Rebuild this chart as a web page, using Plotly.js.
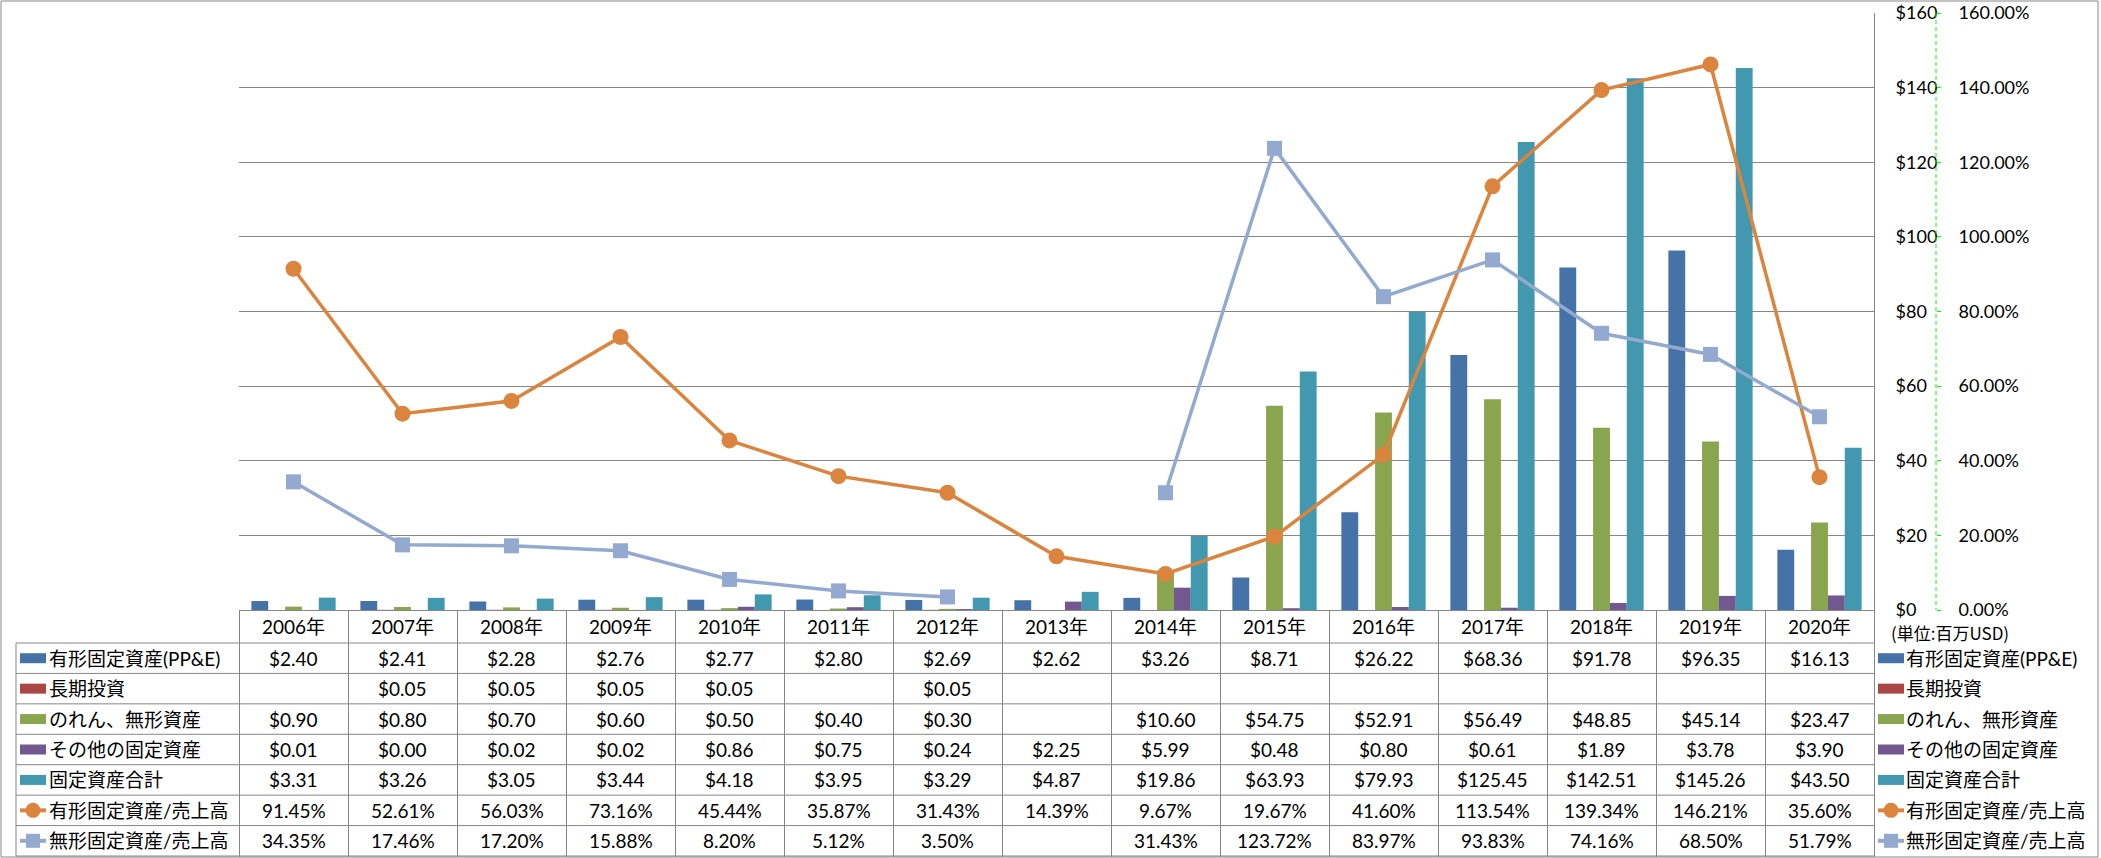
<!DOCTYPE html>
<html>
<head>
<meta charset="utf-8">
<script src="https://cdn.plot.ly/plotly-3.0.1.min.js"></script>
<style>
html,body{margin:0;padding:0;background:#fff;}
#chart{width:2101px;height:858px;}
</style>
</head>
<body>
<div id="chart"></div>
<script>
// ---- data ----
const years = ['2006年','2007年','2008年','2009年','2010年','2011年','2012年','2013年','2014年','2015年','2016年','2017年','2018年','2019年','2020年'];
const ppe = [2.40,2.41,2.28,2.76,2.77,2.80,2.69,2.62,3.26,8.71,26.22,68.36,91.78,96.35,16.13];
const longTermInvest = [null,0.05,0.05,0.05,0.05,null,0.05,null,null,null,null,null,null,null,null];
const goodwillIntangible = [0.90,0.80,0.70,0.60,0.50,0.40,0.30,null,10.60,54.75,52.91,56.49,48.85,45.14,23.47];
const otherFixed = [0.01,0.00,0.02,0.02,0.86,0.75,0.24,2.25,5.99,0.48,0.80,0.61,1.89,3.78,3.90];
const totalFixed = [3.31,3.26,3.05,3.44,4.18,3.95,3.29,4.87,19.86,63.93,79.93,125.45,142.51,145.26,43.50];
const tangibleRatio = [91.45,52.61,56.03,73.16,45.44,35.87,31.43,14.39,9.67,19.67,41.60,113.54,139.34,146.21,35.60];
const intangibleRatio = [34.35,17.46,17.20,15.88,8.20,5.12,3.50,null,31.43,123.72,83.97,93.83,74.16,68.50,51.79];

const seriesNames = ['有形固定資産(PP&E)','長期投資','のれん、無形資産','その他の固定資産','固定資産合計','有形固定資産/売上高','無形固定資産/売上高'];
const unitLabel = '(単位:百万USD)';

// ---- styles ----
const colors = ['#4572A7','#AA4643','#89A54E','#71588F','#4198AF','#DB843D','#93A9CF'];
const FONT = 'Lato, "Noto Sans CJK JP", sans-serif';
const TFS = 19; // table font size
const GRID = '#868686';
const W = 2101, H = 858;
const plotL = 239, plotR = 1874, plotT = 13, plotB = 610, axis2X = 1936;
const tableTop = 610, headerBottom = 643, tableBottom = 856;
const paperW = axis2X - plotL, paperH = plotB - plotT;
const fx = p => (p - plotL) / paperW;
const fy = p => (plotB - p) / paperH;
const rowH = (tableBottom - headerBottom) / 7;
const rowCenter = i => headerBottom + rowH * (i + 0.5);

const barSeries = [ppe, longTermInvest, goodwillIntangible, otherFixed, totalFixed];
const lineSeries = [tangibleRatio, intangibleRatio];

const traces = [];
barSeries.forEach((vals, k) => {
  traces.push({type:'bar', name:seriesNames[k], x:years, y:vals, marker:{color:colors[k]}, yaxis:'y', hoverinfo:'x+y'});
});
lineSeries.forEach((vals, k) => {
  traces.push({type:'scatter', mode:'lines+markers', name:seriesNames[5+k], x:years, y:vals, yaxis:'y2',
    connectgaps:false, line:{color:colors[5+k], width:3.5},
    marker:{color:colors[5+k], size:k===0?16:15, symbol:k===0?'circle':'square'}, cliponaxis:false});
});

const shapes = [];
const annotations = [];
const line = (x0,y0,x1,y1,c,w,dash) => shapes.push({type:'line', xref:'paper', yref:'paper', x0:fx(x0), x1:fx(x1), y0:fy(y0), y1:fy(y1), line:{color:c, width:w||1, dash:dash||'solid'}, layer:'above'});
const rect = (x0,y0,x1,y1,fill) => shapes.push({type:'rect', xref:'paper', yref:'paper', x0:fx(x0), x1:fx(x1), y0:fy(y0), y1:fy(y1), fillcolor:fill, line:{width:0}, layer:'above'});
const circ = (cx,cy,r,fill) => shapes.push({type:'circle', xref:'paper', yref:'paper', x0:fx(cx-r), x1:fx(cx+r), y0:fy(cy-r), y1:fy(cy+r), fillcolor:fill, line:{width:0}, layer:'above'});

// outer chart border
shapes.push({type:'rect', xref:'paper', yref:'paper', x0:fx(1), x1:fx(2098), y0:fy(1), y1:fy(857), line:{color:GRID, width:1}, fillcolor:'rgba(0,0,0,0)', layer:'below'});
// table horizontal lines
for (let r = 0; r <= 7; r++) {
  const y = headerBottom + rowH * r;
  line(16, y, plotR, y, GRID, 1);
}
// table left edge
line(16, headerBottom, 16, tableBottom, GRID, 1);
// green dashed secondary axis line
line(axis2X, plotT, axis2X, plotB, '#00FF00', 1, '4px,3px');

// header labels
years.forEach((yr) => {
  annotations.push({xref:'x', yref:'paper', x:yr, y:fy((tableTop+headerBottom)/2), text:yr, showarrow:false, xanchor:'center', yanchor:'middle', font:{family:FONT, size:TFS, color:'#000'}});
});
// value cells
const allSeries = [ppe, longTermInvest, goodwillIntangible, otherFixed, totalFixed, tangibleRatio, intangibleRatio];
allSeries.forEach((vals, k) => {
  vals.forEach((v, i) => {
    if (v === null) return;
    const txt = k < 5 ? '$' + v.toFixed(2) : v.toFixed(2) + '%';
    annotations.push({xref:'x', yref:'paper', x:years[i], y:fy(rowCenter(k)), text:txt, showarrow:false, xanchor:'center', yanchor:'middle', font:{family:FONT, size:TFS, color:'#000'}});
  });
});
// row labels + keys (left) and legend (right)
function key(x0, x1, k, cy) {
  if (k < 5) {
    rect(x0, cy - 5, x1, cy + 5, colors[k]);
  } else {
    line(x0, cy, x1, cy, colors[k], 4);
    const cx = (x0 + x1) / 2;
    if (k === 5) circ(cx, cy, 7.5, colors[k]);
    else rect(cx - 7, cy - 7, cx + 7, cy + 7, colors[k]);
  }
}
seriesNames.forEach((nm, k) => {
  const cy = rowCenter(k);
  key(20, 46, k, cy);
  annotations.push({xref:'paper', yref:'paper', x:fx(47), y:fy(cy), text:nm, showarrow:false, xanchor:'left', yanchor:'middle', font:{family:FONT, size:TFS, color:'#000'}});
  key(1878, 1904, k, cy);
  annotations.push({xref:'paper', yref:'paper', x:fx(1904), y:fy(cy), text:nm, showarrow:false, xanchor:'left', yanchor:'middle', font:{family:FONT, size:TFS, color:'#000'}});
});
annotations.push({xref:'paper', yref:'paper', x:fx(1889), y:fy(632), text:unitLabel, showarrow:false, xanchor:'left', yanchor:'middle', font:{family:'"Noto Sans CJK JP", sans-serif', size:17, color:'#000'}});

const layout = {
  width:W, height:H,
  margin:{l:plotL, r:W-axis2X, t:plotT, b:H-plotB, pad:0},
  paper_bgcolor:'#fff', plot_bgcolor:'#fff',
  showlegend:false,
  barmode:'group', bargap:0.227, bargroupgap:0,
  font:{family:FONT, size:17, color:'#000'},
  xaxis:{type:'category', range:[-0.5, years.length - 0.5], domain:[0, (plotR-plotL)/paperW], showgrid:false, showline:true, linecolor:GRID, linewidth:1,
    ticks:'outside', tickson:'boundaries', ticklen:tableBottom-plotB, tickcolor:GRID, tickwidth:1, showticklabels:false, fixedrange:true},
  yaxis:{range:[0,160], dtick:20, side:'right', showgrid:true, gridcolor:GRID, gridwidth:1, zeroline:false,
    showline:true, linecolor:GRID, linewidth:1, ticks:'', tickprefix:'$', ticklabelstandoff:17,
    tickfont:{family:FONT, size:18, color:'#000'}, fixedrange:true},
  yaxis2:{range:[0,160], dtick:20, overlaying:'y', side:'right', anchor:'free', position:1, showgrid:false, zeroline:false,
    showline:false, ticks:'outside', ticklen:4, tickcolor:'#00FF00', tickwidth:1, ticksuffix:'%', tickformat:'.2f', ticklabelstandoff:14,
    tickfont:{family:FONT, size:18, color:'#000'}, fixedrange:true},
  shapes:shapes, annotations:annotations
};
Plotly.newPlot('chart', traces, layout, {displayModeBar:false, staticPlot:true});
</script>
</body>
</html>
